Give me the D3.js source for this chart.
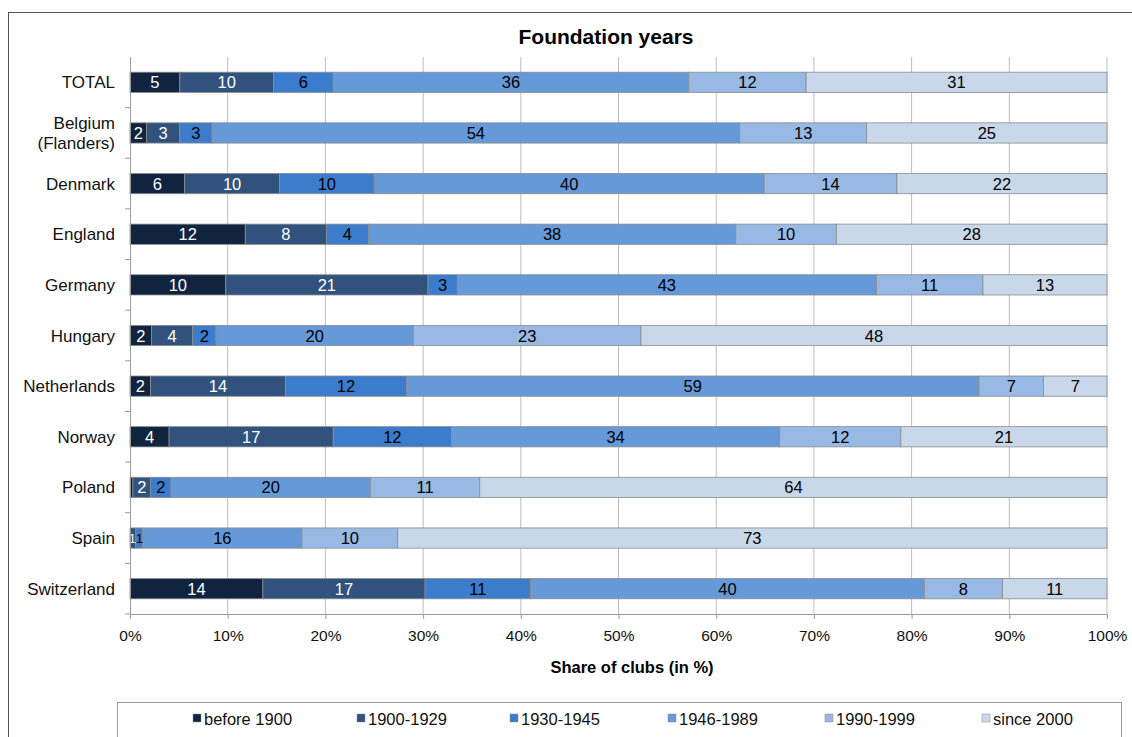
<!DOCTYPE html>
<html><head><meta charset="utf-8">
<script src="https://cdn.jsdelivr.net/npm/d3@7"></script>
<style>body{margin:0;background:#fff;font-family:"Liberation Sans",Arial,sans-serif;}</style>
</head><body><svg id="c" width="1132" height="737"></svg>
<script>
const categories = ["TOTAL","Belgium\n(Flanders)","Denmark","England","Germany","Hungary","Netherlands","Norway","Poland","Spain","Switzerland"];
const seriesNames = ["before 1900","1900-1929","1930-1945","1946-1989","1990-1999","since 2000"];
const before1900 = [5.1, 1.7, 5.6, 11.8, 9.8, 2.2, 2.1, 4.0, 0.3, 0.0, 13.6];
const y1900_1929 = [9.6, 3.4, 9.7, 8.3, 20.7, 4.2, 13.8, 16.8, 1.8, 0.6, 16.6];
const y1930_1945 = [6.1, 3.3, 9.7, 4.3, 3.0, 2.4, 12.4, 12.1, 2.1, 0.7, 10.8];
const y1946_1989 = [36.4, 54.0, 39.9, 37.6, 42.9, 20.2, 58.6, 33.6, 20.4, 16.3, 40.3];
const y1990_1999 = [12.0, 13.0, 13.6, 10.3, 10.9, 23.3, 6.6, 12.4, 11.2, 9.8, 8.0];
const since2000 = [30.8, 24.6, 21.5, 27.7, 12.7, 47.7, 6.5, 21.1, 64.2, 72.6, 10.7];
const xTicks = [0,10,20,30,40,50,60,70,80,90,100];
const colors = ["#10243f","#30527c","#3b7ccc","#6699d8","#97b9e4","#c8d7ea"];
const labelColors = ["#fff","#fff","#000","#000","#000","#000"];

const seriesVals = [before1900, y1900_1929, y1930_1945, y1946_1989, y1990_1999, since2000];
const rows = categories.map((c,i)=>{const o={cat:c}; seriesNames.forEach((s,j)=>o[s]=seriesVals[j][i]); return o;});
const stack = d3.stack().keys(seriesNames)(rows);

const svg = d3.select("#c");
const font = '"Liberation Sans",Arial,sans-serif';
svg.append("rect").attr("x",8.5).attr("y",12.5).attr("width",1140).attr("height",740)
  .attr("fill","none").attr("stroke","#555").attr("stroke-width",1);

const L=130, R=1107, T=57, B=614;
const x = d3.scaleLinear().domain([0,100]).range([L,R]);
const y = d3.scaleBand().domain(categories).range([T,B]).paddingInner(0.6).paddingOuter(0.3);
const yb = d3.scaleBand().domain(categories).range([T,B]);

svg.append("text").attr("x",606).attr("y",44).attr("text-anchor","middle")
  .attr("font-family",font).attr("font-weight","bold").attr("font-size",21).text("Foundation years");

svg.append("g").selectAll("line").data(xTicks.slice(1)).join("line")
  .attr("x1",d=>x(d)).attr("x2",d=>x(d)).attr("y1",T).attr("y2",B)
  .attr("stroke","#bdbdbd").attr("stroke-width",1);

const g = svg.append("g");
stack.forEach((s,j)=>{
  g.append("g").selectAll("rect").data(s).join("rect")
    .attr("x",d=>x(d[0])).attr("width",d=>x(d[1])-x(d[0]))
    .attr("y",d=>y(d.data.cat)).attr("height",y.bandwidth())
    .attr("fill",colors[j]).attr("stroke","#8c8c8c").attr("stroke-width",0.8);
});
const wpx = d => x(d[1])-x(d[0]);
const isTiny = (j,i) => { if(j<0||j>=stack.length) return false; const d=stack[j][i]; const w=wpx(d); return w>0 && w<10 && (d[1]-d[0])>=0.5; };
stack.forEach((s,j)=>{
  g.append("g").selectAll("text").data(s.map((d,i)=>({d,i})).filter(o=>o.d[1]-o.d[0]>=0.5)).join("text")
    .each(function(o){
      const d=o.d, i=o.i, t=d3.select(this);
      let xx=x((d[0]+d[1])/2), anchor="middle", fs=16.5;
      if(isTiny(j,i)){
        fs=13;
        if(isTiny(j+1,i)){ xx=x(d[1]); anchor="end"; }
        else if(isTiny(j-1,i)){ xx=x(d[0]); anchor="start"; }
      }
      t.attr("x",xx).attr("text-anchor",anchor).attr("font-size",fs)
       .attr("y",y(d.data.cat)+y.bandwidth()/2+(fs>14?6:5));
    })
    .attr("font-family",font).attr("fill",labelColors[j]).text(o=>Math.round(o.d[1]-o.d[0]));
});

svg.append("line").attr("x1",L+0.5).attr("x2",L+0.5).attr("y1",T).attr("y2",B).attr("stroke","#9a9a9a");
svg.append("g").selectAll("line").data(categories.slice(1)).join("line")
  .attr("x1",L-5).attr("x2",L).attr("y1",d=>yb(d)).attr("y2",d=>yb(d)).attr("stroke","#9a9a9a");
svg.append("line").attr("x1",L-5).attr("x2",L).attr("y1",B).attr("y2",B).attr("stroke","#9a9a9a");
const cl = svg.append("g").selectAll("text").data(categories).join("text")
  .attr("text-anchor","end").attr("font-family",font).attr("font-size",17).attr("fill","#111");
cl.each(function(d){
  const lines=d.split("\n"); const cy=y(d)+y.bandwidth()/2;
  const t=d3.select(this);
  lines.forEach((ln,k)=>{
    t.append("tspan").attr("x",115).attr("y",cy+6+(k-(lines.length-1)/2)*20).text(ln);
  });
});

const xa = svg.append("g").attr("transform",`translate(0,${B})`)
  .call(d3.axisBottom(x).tickValues(xTicks).tickSize(5).tickFormat(d=>d+"%"));
xa.select(".domain").attr("stroke","#9a9a9a").attr("d",`M${L},0.5H${R}`);
xa.selectAll(".tick line").attr("stroke","#9a9a9a");
xa.selectAll(".tick text").attr("font-family",font).attr("font-size",15.5).attr("fill","#111").attr("dy","1.2em");
svg.append("text").attr("x",632).attr("y",673).attr("text-anchor","middle")
  .attr("font-family",font).attr("font-weight","bold").attr("font-size",16.5).text("Share of clubs (in %)");

svg.append("rect").attr("x",117.5).attr("y",702.5).attr("width",1004).attr("height",40)
  .attr("fill","#fff").attr("stroke","#9a9a9a");
const legX=[193,357,510,668,825,982];
const lg = svg.append("g").selectAll("g").data(seriesNames).join("g")
  .attr("transform",(d,i)=>`translate(${legX[i]},719)`);
lg.append("rect").attr("x",0).attr("y",-5).attr("width",8).attr("height",8)
  .attr("fill",(d,i)=>colors[i]).attr("stroke","#8c8c8c").attr("stroke-width",0.5);
lg.append("text").attr("x",11).attr("y",5.5).attr("font-family",font).attr("font-size",16.5).attr("fill","#111").text(d=>d);
</script></body></html>
